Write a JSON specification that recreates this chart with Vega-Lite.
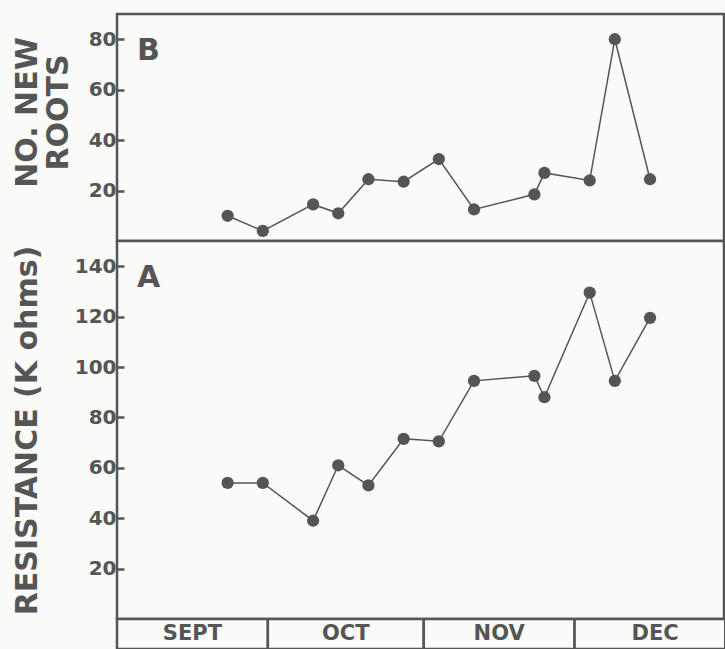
{
  "$schema": "https://vega.github.io/schema/vega-lite/v6.json",
  "background": "#fafaf8",
  "padding": {"left": 10, "top": 12, "right": 1, "bottom": 1},
  "spacing": 0,
  "bounds": "flush",
  "datasets": {
    "obs": [
      {"date": "1981-09-23", "roots": 10, "resistance": 54},
      {"date": "1981-09-30", "roots": 4, "resistance": 54},
      {"date": "1981-10-10", "roots": 14.5, "resistance": 39},
      {"date": "1981-10-15", "roots": 11, "resistance": 61},
      {"date": "1981-10-21", "roots": 24.5, "resistance": 53},
      {"date": "1981-10-28", "roots": 23.5, "resistance": 71.5},
      {"date": "1981-11-04", "roots": 32.5, "resistance": 70.5},
      {"date": "1981-11-11", "roots": 12.5, "resistance": 94.5},
      {"date": "1981-11-23", "roots": 18.5, "resistance": 96.5},
      {"date": "1981-11-25", "roots": 27, "resistance": 88},
      {"date": "1981-12-04", "roots": 24, "resistance": 129.5},
      {"date": "1981-12-09", "roots": 80, "resistance": 94.5},
      {"date": "1981-12-16", "roots": 24.5, "resistance": 119.5}
    ],
    "months": [
      {"month": "SEPT", "start": "1981-09-01", "end": "1981-10-01", "mid": "1981-09-16"},
      {"month": "OCT", "start": "1981-10-01", "end": "1981-11-01", "mid": "1981-10-16T12:00"},
      {"month": "NOV", "start": "1981-11-01", "end": "1981-12-01", "mid": "1981-11-16"},
      {"month": "DEC", "start": "1981-12-01", "end": "1982-01-01", "mid": "1981-12-17"}
    ]
  },
  "config": {
    "view": {"stroke": "#555555", "strokeWidth": 2.5, "fill": "#fafaf8"},
    "axisY": {
      "domain": false,
      "grid": false,
      "tickColor": "#555555",
      "tickWidth": 2.5,
      "tickSize": -7,
      "labelFont": "DejaVu Sans",
      "labelFontWeight": "bold",
      "labelFontSize": 20,
      "labelColor": "#555555",
      "labelPadding": 8,
      "titleFont": "DejaVu Sans",
      "titleFontWeight": "bold",
      "titleFontSize": 30,
      "titleColor": "#555555"
    }
  },
  "resolve": {"scale": {"y": "independent"}},
  "vconcat": [
    {
      "width": 607,
      "height": 227,
      "layer": [
        {
          "data": {"name": "obs"},
          "mark": {"type": "line", "color": "#555555", "strokeWidth": 1.5},
          "encoding": {
            "x": {"field": "date", "type": "temporal", "scale": {"type": "utc", "domain": ["1981-09-01", "1981-12-30T17:00"]}, "axis": null},
            "y": {"field": "roots", "type": "quantitative", "scale": {"domain": [0, 90], "nice": false},
              "axis": {"values": [20, 40, 60, 80], "title": ["NO. NEW", "ROOTS"], "titleAlign": "center", "titleY": 98, "titleLineHeight": 31, "titlePadding": 15}}
          }
        },
        {
          "data": {"name": "obs"},
          "mark": {"type": "point", "filled": true, "shape": "circle", "size": 150, "color": "#555555", "opacity": 1},
          "encoding": {
            "x": {"field": "date", "type": "temporal"},
            "y": {"field": "roots", "type": "quantitative"}
          }
        },
        {
          "data": {"values": [{"label": "B", "date": "1981-09-05", "value": 75.5}]},
          "mark": {"type": "text", "align": "left", "baseline": "middle", "font": "DejaVu Sans", "fontWeight": "bold", "fontSize": 30, "color": "#555555"},
          "encoding": {
            "x": {"field": "date", "type": "temporal"},
            "y": {"field": "value", "type": "quantitative"},
            "text": {"field": "label"}
          }
        }
      ]
    },
    {
      "width": 607,
      "height": 378,
      "layer": [
        {
          "data": {"name": "obs"},
          "mark": {"type": "line", "color": "#555555", "strokeWidth": 1.5},
          "encoding": {
            "x": {"field": "date", "type": "temporal", "scale": {"type": "utc", "domain": ["1981-09-01", "1981-12-30T17:00"]}, "axis": null},
            "y": {"field": "resistance", "type": "quantitative", "scale": {"domain": [0, 150], "nice": false},
              "axis": {"values": [20, 40, 60, 80, 100, 120, 140], "title": "RESISTANCE (K ohms)", "titlePadding": 32}}
          }
        },
        {
          "data": {"name": "obs"},
          "mark": {"type": "point", "filled": true, "shape": "circle", "size": 150, "color": "#555555", "opacity": 1},
          "encoding": {
            "x": {"field": "date", "type": "temporal"},
            "y": {"field": "resistance", "type": "quantitative"}
          }
        },
        {
          "data": {"values": [{"label": "A", "date": "1981-09-05", "value": 135.5}]},
          "mark": {"type": "text", "align": "left", "baseline": "middle", "font": "DejaVu Sans", "fontWeight": "bold", "fontSize": 30, "color": "#555555"},
          "encoding": {
            "x": {"field": "date", "type": "temporal"},
            "y": {"field": "value", "type": "quantitative"},
            "text": {"field": "label"}
          }
        }
      ]
    },
    {
      "width": 607,
      "height": 30,
      "data": {"name": "months"},
      "layer": [
        {
          "mark": {"type": "rect", "fill": "#fafaf8", "stroke": "#555555", "strokeWidth": 2.5, "clip": true},
          "encoding": {
            "x": {"field": "start", "type": "temporal", "scale": {"type": "utc", "domain": ["1981-09-01", "1981-12-30T17:00"]}, "axis": null},
            "x2": {"field": "end"}
          }
        },
        {
          "mark": {"type": "text", "align": "center", "baseline": "middle", "font": "DejaVu Sans", "fontWeight": "bold", "fontSize": 21, "color": "#555555"},
          "encoding": {
            "x": {"field": "mid", "type": "temporal"},
            "text": {"field": "month"}
          }
        }
      ]
    }
  ]
}
